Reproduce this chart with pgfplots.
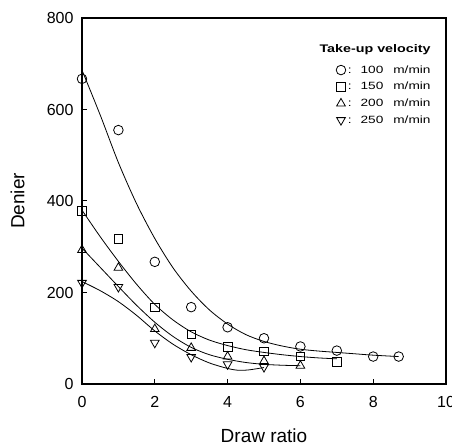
\documentclass[border=0pt]{standalone}
\usepackage{pgfplots}
\pgfplotsset{compat=1.18}
\usepackage{fontspec}
\setmainfont{Liberation Sans}
\newfontfamily\legfont[FakeStretch=1.3]{Liberation Sans}
\newcommand\tickfont{\fontsize{16bp}{18bp}\selectfont}
\begin{document}
\begin{tikzpicture}
\begin{axis}[
  scale only axis,
  width=364bp, height=366bp,
  xmin=0, xmax=10, ymin=0, ymax=800,
  xtick={0,2,4,6,8,10}, ytick={0,200,400,600,800},
  xtick pos=bottom, ytick pos=left,
  tick align=inside, major tick length=5bp,
  tick style={line width=1bp, black},
  axis line style={line width=1.6bp},
  /pgf/number format/assume math mode=true,
  every tick label/.append style={font=\tickfont},
  xticklabel={\tickfont\pgfmathprintnumber{\tick}},
  yticklabel={\tickfont\pgfmathprintnumber{\tick}},
  xticklabel style={yshift=-8.7bp},
  yticklabel style={xshift=-5bp},
  xlabel={Draw ratio}, ylabel={Denier},
  label style={font=\fontsize{19bp}{21bp}\selectfont},
  xlabel style={at={(axis description cs:0.5,-0.14)}, anchor=center},
  ylabel style={at={(axis description cs:-0.177,0.5)}, anchor=center},
  clip=false,
  legend style={draw=none, fill=none, at={(rel axis cs:0.958,0.872)}, anchor=north east,
    font=\legfont\fontsize{10.5bp}{12bp}\selectfont, row sep=6.7bp, inner sep=0pt,
    nodes={inner sep=0pt, text height=8bp, text depth=2bp}},
  legend cell align=left,
]
% fitted curves
\addplot[black, line width=0.8bp, smooth, forget plot] coordinates {
 (0,686) (0.5,588) (1,484) (1.5,394) (2,318) (2.5,254) (3,203) (3.5,162) (4,131)
 (4.5,108) (5,93) (5.5,83) (6,76) (6.5,72) (7,69) (7.5,66) (8,63) (8.7,60)};
\addplot[black, line width=0.8bp, smooth, forget plot] coordinates {
 (0,380) (0.5,322) (1,268) (1.5,218) (2,174) (2.5,140) (3,114) (3.5,96) (4,84)
 (4.5,75) (5,69) (5.5,64) (6,60) (6.5,57) (7,55)};
\addplot[black, line width=0.8bp, smooth, forget plot] coordinates {
 (0,297) (0.5,255) (1,213) (1.5,172) (2,135) (2.5,104) (3,80) (3.5,64) (4,54)
 (4.5,47) (5,43) (5.5,41) (6,40)};
\addplot[black, line width=0.8bp, smooth, forget plot] coordinates {
 (0,224) (0.5,204) (1,180) (1.5,150) (2,116) (2.5,87) (3,64) (3.5,46) (4,34)
 (4.3,30) (4.6,31) (5,36)};
% data points
\addplot[only marks, mark=o, mark size=4.8bp, mark options={line width=0.8bp, black}] coordinates {
 (0,667) (1,555) (2,267) (3,168) (4,124) (5,100) (6,82) (7,73) (8,60) (8.7,60)};
\addlegendentry{\hspace{2bp}:\hspace{9bp}100\hspace{10bp}m/min}
\addplot[only marks, mark=square, mark size=4.3bp, mark options={line width=0.8bp, black}] coordinates {
 (0,378) (1,317) (2,167) (3,108) (4,81) (5,71) (6,60) (7,48)};
\addlegendentry{\hspace{2bp}:\hspace{9bp}150\hspace{10bp}m/min}
\addplot[only marks, mark=triangle, mark size=5bp, mark options={line width=0.8bp, black}] coordinates {
 (0,293) (1,254) (2,120) (3,79) (4,60) (5,50) (6,40)};
\addlegendentry{\hspace{2bp}:\hspace{9bp}200\hspace{10bp}m/min}
\addplot[only marks, mark=triangle, mark size=5bp, mark options={line width=0.8bp, black, rotate=180}] coordinates {
 (0,221) (1,212) (2,90) (3,59) (4,43) (5,37)};
\addlegendentry{\hspace{2bp}:\hspace{9bp}250\hspace{10bp}m/min}
\node[anchor=center, font=\legfont\fontsize{11bp}{13bp}\selectfont\bfseries] at (rel axis cs:0.805,0.913) {Take-up velocity};
\end{axis}
\pgfresetboundingbox
\path (-82bp,-59bp) rectangle (370bp,384bp);
\end{tikzpicture}
\end{document}
